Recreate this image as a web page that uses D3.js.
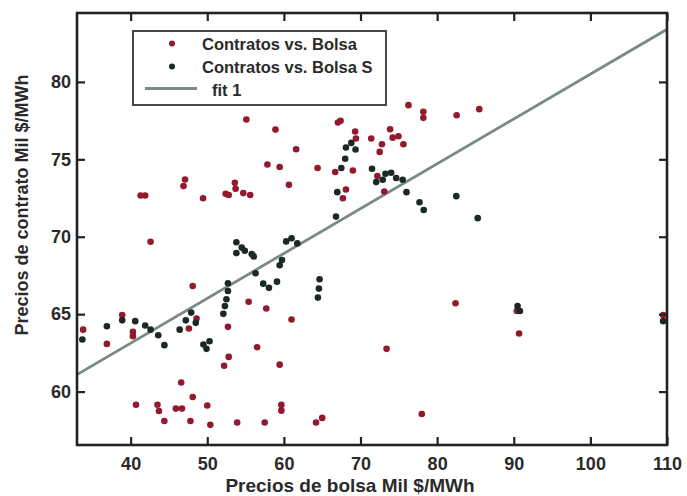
<!DOCTYPE html>
<html>
<head>
<meta charset="utf-8">
<script src="https://cdn.jsdelivr.net/npm/d3@7"></script>
<style>
  body { margin: 0; background: #fff; }
  svg { display: block; font-family: "Liberation Sans", Arial, sans-serif; }
</style>
</head>
<body>
<div id="chart"></div>
<script>
// Contratos vs. Bolsa (red)
var redX = [33.8, 36.9, 38.9, 40.3, 40.3, 41.3, 41.9, 42.6, 40.7, 43.5, 43.7, 44.4, 45.9, 46.7, 46.6, 47.8,
  48.1, 50.0, 50.4, 47.1, 46.9, 47.6, 48.1, 48.6, 49.45, 52.4, 52.8, 52.2, 52.8, 52.7, 53.6, 53.7,
  53.9, 55.1, 54.7, 55.6, 55.4, 56.5, 57.5, 57.85, 57.7, 58.9, 59.45, 59.45, 59.67, 59.67, 60.66,
  61.6, 61.0, 64.4, 64.2, 65.0, 66.7, 67.05, 67.4, 67.7, 68.1, 69.0, 69.3, 69.4, 71.4, 72.2, 72.5,
  72.8, 73.1, 73.4, 73.86, 74.2, 74.95, 75.6, 76.26, 78.2, 78.2, 78.0, 82.55, 82.4, 85.5, 90.4,
  90.7, 109.5];
var redY = [64.0, 63.08, 64.94, 63.86, 63.58, 72.66, 72.66, 69.68, 59.15, 59.15, 58.75, 58.1, 58.9, 58.9,
  60.59, 58.1, 59.65, 59.1, 57.85, 73.7, 73.27, 64.07, 66.82, 64.72, 72.49, 72.77, 72.7, 61.67, 62.24,
  64.18, 73.48, 73.1, 58.0, 77.57, 72.82, 72.7, 65.8, 62.86, 58.0, 74.67, 65.37, 76.92, 74.5, 61.74,
  59.14, 58.77, 73.35, 75.65, 64.66, 74.44, 58.0, 58.3, 74.18, 77.38, 77.49, 72.49, 73.05, 74.28,
  76.8, 76.34, 76.34, 73.92, 75.48, 75.97, 72.92, 62.76, 76.94, 76.4, 76.49, 75.97, 78.5, 78.07,
  77.68, 58.55, 77.85, 65.7, 78.24, 65.2, 63.75, 64.94];

// Contratos vs. Bolsa S (black)
var blackX = [33.7, 36.9, 38.9, 40.6, 41.9, 42.6, 43.6, 44.4, 46.4, 47.2, 47.9, 48.5, 49.5, 49.9, 50.3,
  52.1, 52.3, 52.5, 52.7, 52.7, 53.8, 53.8, 54.5, 54.9, 55.8, 56.06, 56.3, 57.3, 58.05, 59.1, 59.45,
  59.75, 60.3, 61.0, 61.75, 64.66, 64.57, 64.44, 66.8, 66.97, 67.5, 68.0, 68.1, 68.8, 69.35, 71.5,
  72.05, 72.9, 73.26, 74.0, 74.65, 75.5, 76.0, 77.7, 78.25, 82.5, 85.3, 90.5, 90.8, 109.5];
var blackY = [63.36, 64.22, 64.6, 64.55, 64.27, 64.0, 63.64, 63.0, 64.0, 64.6, 65.1, 64.44, 63.04, 62.76,
  63.25, 65.02, 65.52, 65.96, 66.5, 67.0, 69.64, 68.94, 69.3, 69.1, 68.88, 68.73, 67.64, 66.97, 66.7,
  67.1, 68.16, 68.5, 69.7, 69.9, 69.57, 67.25, 66.65, 66.07, 71.3, 72.88, 74.44, 75.04, 75.76, 76.06,
  75.63, 74.39, 73.53, 73.68, 74.07, 74.13, 73.79, 73.68, 72.88, 72.23, 71.73, 72.62, 71.2, 65.52,
  65.2, 64.55];

// fit 1 endpoints
var fitX = [33, 110];
var fitY = [61.1, 83.4];

var xTicks = [40, 50, 60, 70, 80, 90, 100, 110];
var yTicks = [60, 65, 70, 75, 80];

var legendLabels = ["Contratos vs. Bolsa", "Contratos vs. Bolsa S", "fit 1"];

var W = 687, H = 496;
var margin = { top: 13, right: 20, bottom: 51, left: 77 };
var w = W - margin.left - margin.right;
var h = H - margin.top - margin.bottom;

var redColor = "#93192d";
var blackColor = "#1b2826";
var fitColor = "#7b8987";
var inkColor = "#222";

var svg = d3.select("#chart").append("svg")
  .attr("width", W)
  .attr("height", H);

var g = svg.append("g")
  .attr("transform", "translate(" + margin.left + "," + margin.top + ")");

var x = d3.scaleLinear().domain([33, 110]).range([0, w]);
var y = d3.scaleLinear().domain([56.55, 84.45]).range([h, 0]);

g.append("clipPath").attr("id", "plotclip")
  .append("rect").attr("width", w).attr("height", h);

// fit line
g.append("line")
  .attr("clip-path", "url(#plotclip)")
  .attr("x1", x(fitX[0])).attr("y1", y(fitY[0]))
  .attr("x2", x(fitX[1])).attr("y2", y(fitY[1]))
  .style("stroke", fitColor)
  .style("stroke-width", 2.8);

// points
g.selectAll("circle.red")
  .data(redX)
  .enter().append("circle")
  .attr("class", "red")
  .attr("cx", function (d) { return x(d); })
  .attr("cy", function (d, i) { return y(redY[i]); })
  .attr("r", 3.3)
  .style("fill", redColor);

g.selectAll("circle.black")
  .data(blackX)
  .enter().append("circle")
  .attr("class", "black")
  .attr("cx", function (d) { return x(d); })
  .attr("cy", function (d, i) { return y(blackY[i]); })
  .attr("r", 3.3)
  .style("fill", blackColor);

// axes, ticks point inward on all four sides
var xAxis = g.append("g")
  .attr("transform", "translate(0," + h + ")")
  .call(d3.axisBottom(x).tickValues(xTicks).tickSizeInner(-8).tickSizeOuter(0).tickPadding(12));
var yAxis = g.append("g")
  .call(d3.axisLeft(y).tickValues(yTicks).tickSizeInner(-8).tickSizeOuter(0).tickPadding(6));
var xTop = g.append("g")
  .call(d3.axisTop(x).tickValues(xTicks).tickSizeInner(-8).tickSizeOuter(0).tickFormat(""));
var yRight = g.append("g")
  .attr("transform", "translate(" + w + ",0)")
  .call(d3.axisRight(y).tickValues(yTicks).tickSizeInner(-8).tickSizeOuter(0).tickFormat(""));

[xAxis, yAxis, xTop, yRight].forEach(function (a) {
  a.select(".domain").remove();
  a.selectAll(".tick line").style("stroke", inkColor).style("stroke-width", 2.2);
  a.selectAll(".tick text")
    .style("font-size", "18px")
    .style("font-weight", "bold")
    .style("fill", "#2a2a2a");
});

// frame
g.append("rect")
  .attr("width", w)
  .attr("height", h)
  .style("fill", "none")
  .style("stroke", inkColor)
  .style("stroke-width", 2.6);

// axis titles
svg.append("text")
  .attr("x", 350)
  .attr("y", 492)
  .attr("text-anchor", "middle")
  .style("font-size", "19px")
  .style("font-weight", "bold")
  .style("fill", "#2a2a2a")
  .text("Precios de bolsa Mil $/MWh");

svg.append("text")
  .attr("transform", "translate(28,205) rotate(-90)")
  .attr("text-anchor", "middle")
  .style("font-size", "18px")
  .style("font-weight", "bold")
  .style("fill", "#2a2a2a")
  .text("Precios de contrato Mil $/MWh");

// legend
var lg = svg.append("g").attr("transform", "translate(133,31)");
lg.append("rect")
  .attr("width", 253)
  .attr("height", 74)
  .style("fill", "#fff")
  .style("stroke", "#333")
  .style("stroke-width", 1.8);

lg.append("circle").attr("cx", 39).attr("cy", 12.5).attr("r", 3).style("fill", redColor);
lg.append("circle").attr("cx", 39).attr("cy", 35.5).attr("r", 3).style("fill", blackColor);
lg.append("line")
  .attr("x1", 12).attr("x2", 64)
  .attr("y1", 57.5).attr("y2", 57.5)
  .style("stroke", fitColor)
  .style("stroke-width", 2.8);

lg.selectAll("text.lab")
  .data(legendLabels)
  .enter().append("text")
  .attr("class", "lab")
  .attr("x", function (d, i) { return i == 2 ? 79 : 69; })
  .attr("y", function (d, i) { return 18.5 + i * 23; })
  .style("font-size", "16.5px")
  .style("font-weight", "bold")
  .style("fill", "#2a2a2a")
  .text(function (d) { return d; });
</script>
</body>
</html>
